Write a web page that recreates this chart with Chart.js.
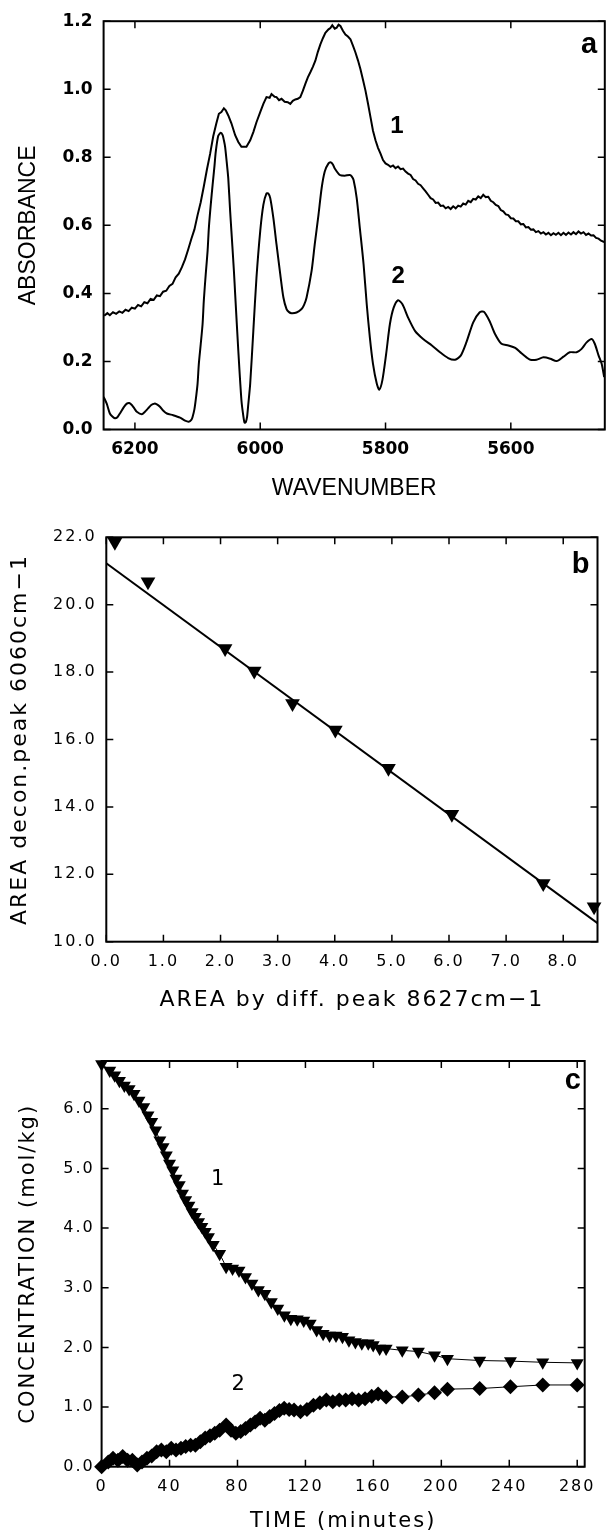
<!DOCTYPE html>
<html><head><meta charset="utf-8">
<script src="https://cdn.jsdelivr.net/npm/chart.js@4/dist/chart.umd.min.js"></script>
<style>
html,body{margin:0;padding:0;background:#fff;}
#wrap{position:relative;width:606px;height:1535px;overflow:hidden;background:#fff;}
canvas{position:absolute;left:0;}
</style></head><body>
<div id="wrap">
<canvas id="ca" width="606" height="515" style="top:0px"></canvas>
<canvas id="cb" width="606" height="515" style="top:515px"></canvas>
<canvas id="cc" width="606" height="505" style="top:1030px"></canvas>
</div>
<script>
// ---------- Panel a : spectra ----------
const waveTicks = [6200, 6000, 5800, 5600];
const absTicks = [0.0, 0.2, 0.4, 0.6, 0.8, 1.0, 1.2];
const wave1 = [6249,6244,6240,6235,6230,6225,6220,6215,6210,6205,6200,6195,6190,6185,6180,6175,6170,6165,6160,6155,6150,6145,6140,6135,6130,6125,6120,6115,6110,6105,6100,6095,6090,6085,6080,6075,6070,6066,6062,6058,6055,6051,6046,6040,6035,6030,6022,6016,6011,6006,6000,5995,5990,5985,5982,5977,5974,5970,5966,5961,5956,5952,5948,5944,5940,5936,5932,5928,5924,5920,5916,5912,5908,5904,5900,5896,5891,5888,5885,5881,5878,5875,5872,5868,5864,5860,5856,5852,5848,5844,5840,5836,5832,5828,5824,5820,5816,5812,5808,5804,5800,5796,5792,5788,5784,5780,5776,5772,5768,5764,5760,5756,5752,5748,5744,5740,5736,5732,5728,5724,5720,5716,5712,5708,5704,5700,5696,5692,5688,5684,5680,5676,5672,5668,5664,5660,5656,5652,5648,5644,5640,5636,5632,5628,5624,5620,5616,5612,5608,5604,5600,5596,5592,5588,5584,5580,5576,5572,5568,5564,5560,5556,5552,5548,5544,5540,5536,5532,5528,5524,5520,5516,5512,5508,5504,5500,5496,5492,5488,5484,5480,5476,5472,5468,5464,5460,5456,5451];
const abs1 = [0.334,0.342,0.336,0.345,0.340,0.347,0.343,0.352,0.348,0.358,0.355,0.366,0.362,0.374,0.371,0.384,0.381,0.394,0.392,0.405,0.408,0.422,0.428,0.447,0.458,0.477,0.500,0.529,0.560,0.588,0.630,0.668,0.715,0.765,0.810,0.862,0.900,0.928,0.933,0.944,0.938,0.923,0.900,0.865,0.845,0.831,0.831,0.850,0.874,0.903,0.933,0.957,0.977,0.975,0.986,0.978,0.977,0.968,0.972,0.963,0.962,0.957,0.966,0.970,0.972,0.977,0.995,1.016,1.035,1.050,1.066,1.084,1.110,1.132,1.150,1.166,1.176,1.180,1.188,1.178,1.181,1.190,1.186,1.172,1.161,1.155,1.147,1.128,1.108,1.085,1.059,1.028,0.996,0.958,0.918,0.878,0.850,0.828,0.811,0.792,0.782,0.778,0.772,0.776,0.768,0.773,0.765,0.767,0.758,0.752,0.748,0.736,0.732,0.722,0.718,0.709,0.700,0.690,0.680,0.676,0.666,0.667,0.657,0.658,0.650,0.654,0.648,0.656,0.650,0.658,0.655,0.664,0.661,0.672,0.668,0.678,0.676,0.685,0.680,0.690,0.683,0.684,0.672,0.668,0.660,0.657,0.645,0.641,0.632,0.630,0.621,0.620,0.612,0.612,0.603,0.604,0.594,0.595,0.587,0.588,0.580,0.583,0.576,0.580,0.573,0.578,0.571,0.577,0.572,0.578,0.571,0.578,0.572,0.579,0.573,0.580,0.574,0.582,0.576,0.580,0.572,0.576,0.570,0.571,0.563,0.561,0.555,0.551];
const wave2 = [6250,6245,6240,6236,6232,6228,6224,6218,6213,6209,6205,6201,6197,6189,6184,6179,6174,6169,6165,6160,6155,6149,6139,6128,6120,6114,6110,6108,6105,6103,6100,6098,6095,6092,6090,6087,6084,6082,6079,6076,6073,6071,6067,6063,6060,6058,6056,6053,6051,6048,6046,6042,6040,6035,6030,6027,6025,6023,6021,6019,6016,6011,6006,6000,5995,5990,5987,5984,5979,5974,5968,5963,5958,5954,5950,5942,5934,5930,5926,5918,5913,5907,5902,5897,5891,5887,5884,5881,5873,5865,5857,5854,5851,5846,5841,5835,5830,5825,5820,5814,5810,5805,5799,5793,5787,5780,5773,5764,5753,5740,5726,5713,5700,5689,5680,5671,5660,5650,5643,5634,5625,5615,5604,5593,5583,5575,5569,5559,5548,5537,5527,5516,5506,5495,5487,5479,5471,5466,5460,5455,5451];
const abs2 = [0.096,0.076,0.047,0.038,0.033,0.036,0.047,0.065,0.076,0.078,0.072,0.062,0.052,0.045,0.052,0.062,0.072,0.076,0.074,0.067,0.056,0.047,0.042,0.035,0.026,0.023,0.028,0.037,0.060,0.086,0.135,0.193,0.250,0.310,0.380,0.456,0.525,0.592,0.660,0.719,0.775,0.816,0.863,0.872,0.865,0.850,0.830,0.777,0.738,0.641,0.583,0.466,0.398,0.232,0.086,0.040,0.020,0.022,0.037,0.075,0.135,0.290,0.446,0.583,0.660,0.694,0.693,0.680,0.621,0.544,0.456,0.388,0.354,0.345,0.342,0.344,0.354,0.366,0.388,0.466,0.544,0.631,0.709,0.758,0.782,0.785,0.779,0.767,0.748,0.746,0.748,0.744,0.733,0.680,0.592,0.485,0.368,0.270,0.193,0.135,0.117,0.145,0.222,0.310,0.358,0.380,0.368,0.329,0.290,0.266,0.247,0.227,0.210,0.205,0.217,0.256,0.315,0.344,0.346,0.319,0.280,0.252,0.247,0.240,0.224,0.212,0.205,0.205,0.212,0.208,0.201,0.214,0.227,0.227,0.237,0.256,0.266,0.252,0.218,0.193,0.154];

// ---------- Panel b : calibration ----------
const diffTicks = [0,1,2,3,4,5,6,7,8];
const deconTicks = [10,12,14,16,18,20,22];
const diffArea = [0.15,0.73,2.08,2.59,3.26,4.01,4.94,6.05,7.65,8.54];
const deconArea = [21.85,20.68,18.70,18.03,17.07,16.28,15.15,13.78,11.73,11.04];
const fitX = [0, 8.6];
const fitY = [21.23, 10.55];

// ---------- Panel c : kinetics ----------
const timeTicks = [0,40,80,120,160,200,240,280];
const concTicks = [0,1,2,3,4,5,6];
const time1 = [0,4.8,7.7,10.5,13.4,16.2,19.1,22.0,24.8,27.3,29.5,31.8,34.3,36.2,38.1,40.0,41.9,43.8,45.7,47.6,49.5,51.4,53.3,55.2,57.1,59.0,61.0,62.9,65.7,69.5,73.3,77.1,80.9,84.7,88.5,92.3,96.1,99.9,103.7,107.6,111.4,115.2,119.0,122.8,126.6,130.4,134.2,138.0,141.8,145.6,149.4,153.2,157.0,159.9,163.7,167.5,177.0,186.5,196.0,203.6,222.6,240.7,259.7,280.0];
const conc1 = [6.75,6.64,6.56,6.47,6.39,6.33,6.25,6.14,6.03,5.89,5.78,5.64,5.47,5.36,5.22,5.08,4.97,4.83,4.72,4.58,4.47,4.38,4.27,4.19,4.10,4.02,3.94,3.85,3.72,3.57,3.35,3.32,3.29,3.18,3.07,2.96,2.90,2.76,2.65,2.54,2.48,2.47,2.45,2.40,2.29,2.23,2.20,2.20,2.18,2.12,2.09,2.07,2.07,2.04,1.98,1.98,1.95,1.93,1.87,1.81,1.78,1.77,1.75,1.74];
const time2 = [0,3.9,6.7,9.6,12.4,15.3,18.1,21.0,23.8,26.7,29.5,32.4,35.2,38.1,41.0,43.8,46.7,49.5,52.4,55.2,58.1,61.0,63.8,66.6,69.5,73.3,76.2,79.0,81.9,84.7,87.6,90.4,93.3,96.1,99.0,101.8,104.7,107.5,110.4,113.3,117.1,120.9,124.7,128.5,132.3,136.1,139.9,143.7,147.5,151.3,155.1,159.0,162.8,167.5,177.0,186.5,196.0,203.6,222.6,240.7,259.7,280.0];
const conc2 = [0.00,0.08,0.14,0.11,0.17,0.11,0.11,0.03,0.08,0.14,0.18,0.25,0.28,0.25,0.31,0.28,0.31,0.34,0.36,0.36,0.42,0.48,0.52,0.56,0.61,0.70,0.61,0.56,0.59,0.64,0.70,0.75,0.81,0.78,0.84,0.89,0.94,0.98,0.96,0.95,0.92,0.96,1.03,1.07,1.12,1.09,1.12,1.12,1.14,1.12,1.14,1.18,1.22,1.17,1.17,1.20,1.24,1.30,1.31,1.34,1.37,1.37];

const pts = (xs, ys) => xs.map((v, i) => ({x: v, y: ys[i]}));

// ---------- helper plugins ----------
const frameTicks = {
  id: 'frameTicks',
  beforeDatasetsDraw(chart, args, o) {
    const {ctx, chartArea: a, scales: {x, y}} = chart;
    ctx.save();
    ctx.strokeStyle = '#000';
    ctx.lineWidth = o.frameWidth;
    ctx.strokeRect(a.left, a.top, a.right - a.left, a.bottom - a.top);
    ctx.lineWidth = o.tickWidth;
    const L = o.tickLen;
    ctx.beginPath();
    x.ticks.forEach(t => {
      const p = x.getPixelForValue(t.value);
      ctx.moveTo(p, a.bottom); ctx.lineTo(p, a.bottom - L);
      ctx.moveTo(p, a.top); ctx.lineTo(p, a.top + L);
    });
    y.ticks.forEach(t => {
      const p = y.getPixelForValue(t.value);
      ctx.moveTo(a.left, p); ctx.lineTo(a.left + L, p);
      ctx.moveTo(a.right, p); ctx.lineTo(a.right - L, p);
    });
    ctx.stroke();
    ctx.restore();
  }
};
const notes = {
  id: 'notes',
  afterDraw(chart, args, o) {
    const {ctx, scales: {x, y}} = chart;
    ctx.save();
    ctx.fillStyle = '#000';
    ctx.textAlign = 'center';
    ctx.textBaseline = 'middle';
    o.items.forEach(it => {
      ctx.font = it.font;
      ctx.fillText(it.text, x.getPixelForValue(it.x), y.getPixelForValue(it.y));
    });
    ctx.restore();
  }
};
const spacing = {
  id: 'spacing',
  beforeUpdate(chart, args, o) { chart.ctx.letterSpacing = o.value; },
  beforeLayout(chart, args, o) { chart.ctx.letterSpacing = o.value; },
  beforeDraw(chart, args, o) { chart.ctx.letterSpacing = o.value; }
};

Chart.defaults.color = '#000';
Chart.defaults.animation = false;

const setTicks = arr => s => { s.ticks = arr.map(v => ({value: v})); };

function axisCommon(extra) {
  return Object.assign({
    type: 'linear',
    grid: {display: false, drawTicks: false},
    border: {display: false}
  }, extra);
}

// ---------- Chart a ----------
const helvB = "'Liberation Sans', Arial, sans-serif";
const dvs = "'DejaVu Sans', sans-serif";
new Chart(document.getElementById('ca'), {
  type: 'scatter',
  data: {datasets: [
    {data: pts(wave1, abs1), showLine: true, borderColor: '#000', borderWidth: 2, pointRadius: 0, tension: 0},
    {data: pts(wave2, abs2), showLine: true, borderColor: '#000', borderWidth: 2, pointRadius: 0, tension: 0.25}
  ]},
  options: {
    responsive: false,
    events: [],
    layout: {padding: {left: 0, top: 19, right: 1.2, bottom: 0}},
    plugins: {
      legend: {display: false}, tooltip: {enabled: false},
      spacing: {value: '0px'},
      frameTicks: {frameWidth: 2, tickWidth: 1.5, tickLen: 7},
      notes: {items: [
        {text: 'a', x: 5475, y: 1.13, font: 'bold 29px ' + helvB},
        {text: '1', x: 5782, y: 0.892, font: 'bold 24px ' + helvB},
        {text: '2', x: 5780, y: 0.451, font: 'bold 24px ' + helvB}
      ]}
    },
    scales: {
      x: axisCommon({
        reverse: true, min: 5450, max: 6250,
        afterBuildTicks: setTicks(waveTicks),
        afterFit: s => { s.height = 85.5; },
        ticks: {font: {family: dvs, size: 17, weight: 'bold'}, padding: 9.5, maxRotation: 0, autoSkip: false, callback: v => String(v)},
        title: {display: true, text: 'WAVENUMBER', font: {family: helvB, size: 23}, padding: {top: 0, bottom: 13}}
      }),
      y: axisCommon({
        min: 0, max: 1.2,
        afterBuildTicks: setTicks(absTicks),
        afterFit: s => { s.width = 103.6; },
        ticks: {font: {family: dvs, size: 17, weight: 'bold'}, padding: 11, callback: v => v.toFixed(1)},
        title: {display: true, text: 'ABSORBANCE', font: {family: helvB, size: 23}, padding: {top: 15, bottom: 0}}
      })
    }
  },
  plugins: [spacing, frameTicks, notes]
});

// ---------- Chart b ----------
new Chart(document.getElementById('cb'), {
  type: 'scatter',
  data: {datasets: [
    {data: pts(fitX, fitY), showLine: true, borderColor: '#000', borderWidth: 2, pointRadius: 0},
    {data: pts(diffArea, deconArea), showLine: false, pointStyle: 'triangle', rotation: 180, pointRadius: 8.5,
     pointBackgroundColor: '#000', pointBorderColor: '#000', pointBorderWidth: 0, clip: false}
  ]},
  options: {
    responsive: false,
    events: [],
    layout: {padding: {left: 0, top: 22.3, right: 5, bottom: 0}},
    plugins: {
      legend: {display: false}, tooltip: {enabled: false},
      spacing: {value: '2px'},
      frameTicks: {frameWidth: 2, tickWidth: 1.5, tickLen: 7},
      notes: {items: [
        {text: 'b', x: 8.32, y: 21.18, font: 'bold 29px ' + helvB}
      ]}
    },
    scales: {
      x: axisCommon({
        min: 0, max: 8.6,
        afterBuildTicks: setTicks(diffTicks),
        afterFit: s => { s.height = 88.3; },
        ticks: {font: {family: dvs, size: 16}, padding: 10.4, maxRotation: 0, autoSkip: false, callback: v => v.toFixed(1)},
        title: {display: true, text: 'AREA by diff. peak 8627cm\u22121', font: {family: dvs, size: 22}, padding: {top: 0, bottom: 16.8}}
      }),
      y: axisCommon({
        min: 10, max: 22,
        afterBuildTicks: setTicks(deconTicks),
        afterFit: s => { s.width = 106.3; },
        ticks: {font: {family: dvs, size: 16}, padding: 9.6, callback: v => v.toFixed(1)},
        title: {display: true, text: 'AREA decon.peak 6060cm\u22121', font: {family: dvs, size: 22}, padding: {top: 6.8, bottom: 0}}
      })
    }
  },
  plugins: [spacing, frameTicks, notes]
});

// ---------- Chart c ----------
new Chart(document.getElementById('cc'), {
  type: 'scatter',
  data: {datasets: [
    {data: pts(time1, conc1), showLine: true, borderColor: '#000', borderWidth: 1, pointStyle: 'triangle', rotation: 180,
     pointRadius: 7.5, pointBackgroundColor: '#000', pointBorderColor: '#000', pointBorderWidth: 0, clip: false},
    {data: pts(time2, conc2), showLine: true, borderColor: '#000', borderWidth: 1, pointStyle: 'rectRot',
     pointRadius: 7.5, pointBackgroundColor: '#000', pointBorderColor: '#000', pointBorderWidth: 0, clip: false}
  ]},
  options: {
    responsive: false,
    events: [],
    layout: {padding: {left: 0, top: 31, right: 6.2, bottom: 0}},
    plugins: {
      legend: {display: false}, tooltip: {enabled: false},
      spacing: {value: '2px'},
      frameTicks: {frameWidth: 2, tickWidth: 1.5, tickLen: 7},
      notes: {items: [
        {text: 'c', x: 278, y: 6.47, font: 'bold 29px ' + helvB},
        {text: '1', x: 69, y: 4.81, font: '21px ' + dvs},
        {text: '2', x: 81, y: 1.37, font: '21px ' + dvs}
      ]}
    },
    scales: {
      x: axisCommon({
        min: 0, max: 284.4,
        afterBuildTicks: setTicks(timeTicks),
        afterFit: s => { s.height = 68.3; },
        ticks: {font: {family: dvs, size: 16}, padding: 10.4, maxRotation: 0, autoSkip: false, callback: v => String(v)},
        title: {display: true, text: 'TIME (minutes)', font: {family: dvs, size: 21}, padding: {top: 0, bottom: 0.5}}
      }),
      y: axisCommon({
        min: 0, max: 6.8,
        afterBuildTicks: setTicks(concTicks),
        afterFit: s => { s.width = 101.6; },
        ticks: {font: {family: dvs, size: 16}, padding: 6.8, callback: v => v.toFixed(1)},
        title: {display: true, text: 'CONCENTRATION (mol/kg)', font: {family: dvs, size: 21}, padding: {top: 16.4, bottom: 0}}
      })
    }
  },
  plugins: [spacing, frameTicks, notes]
});
</script>
</body></html>
